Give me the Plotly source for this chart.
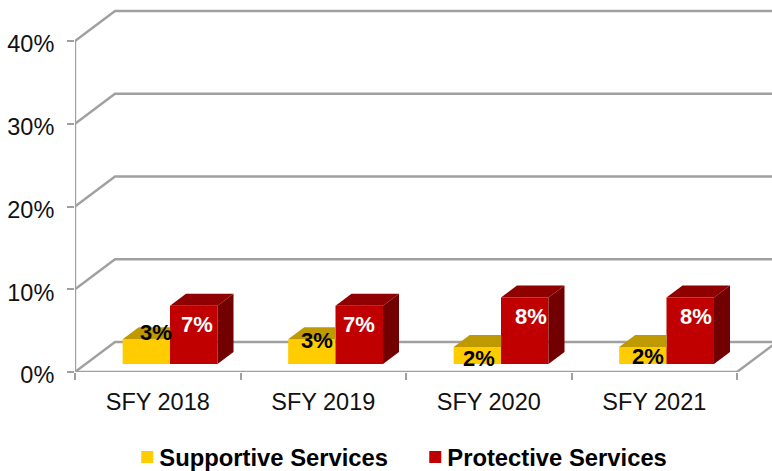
import plotly.graph_objects as go

categories = ["SFY 2018", "SFY 2019", "SFY 2020", "SFY 2021"]
supportive = [3.0, 3.0, 2.05, 2.05]
protective = [7.05, 7.05, 8.05, 8.05]
y_ticks = [0, 10, 20, 30, 40]

# chart geometry (in axis units)
WALL_DX, WALL_DY = 0.2417, 3.63
BAR_DX, BAR_DY = 0.0967, 1.45
BASE = 0.97
BAR_W = 0.287
YEL_OFF, RED_OFF = -0.212, 0.074
LEFT, RIGHT = -0.5, 3.5
X_END, Y_END = 3.7115, 44
LINE = "#a0a0a0"

# label nudges in px relative to category centre / top of bar
sup_shift = [(-2, 7), (-6, -1), (-10, -11), (-6, -9)]
pro_shift = [(39, -19), (36, -19), (42, -19), (42, -19)]

fig = go.Figure()


def rule(xs, ys):
    fig.add_trace(go.Scatter(x=xs, y=ys, mode="lines", line=dict(color=LINE, width=2.4),
                             showlegend=False, hoverinfo="skip", cliponaxis=False))


# back wall gridlines, floor edge and axis lines on the primary axes (below the bars)
for t in y_ticks:
    rule([LEFT, LEFT + WALL_DX, RIGHT + WALL_DX], [t, t + WALL_DY, t + WALL_DY])
rule([RIGHT, RIGHT + WALL_DX], [0, WALL_DY])
rule([LEFT, LEFT], [0, y_ticks[-1]])
rule([LEFT, RIGHT], [0, 0])

# front faces
fig.add_trace(go.Bar(x=list(range(4)), y=supportive, base=BASE, width=BAR_W, offset=YEL_OFF,
                     marker=dict(color="#FFCC00", line=dict(width=0)), name="Supportive Services",
                     xaxis="x2", yaxis="y2"))
fig.add_trace(go.Bar(x=list(range(4)), y=protective, base=BASE, width=BAR_W, offset=RED_OFF,
                     marker=dict(color="#C00000", line=dict(width=0)), name="Protective Services",
                     xaxis="x2", yaxis="y2"))


def face(xs, ys, color):
    fig.add_trace(go.Scatter(x=xs, y=ys, mode="lines", fill="toself", fillcolor=color,
                             line=dict(width=0, color=color), showlegend=False, hoverinfo="skip",
                             xaxis="x2", yaxis="y2", cliponaxis=False))


for i, v in enumerate(supportive):
    x0, x1 = i + YEL_OFF, i + YEL_OFF + BAR_W
    t = BASE + v
    face([x0, x1, x1, x0 + BAR_DX, x0], [t, t, t + BAR_DY, t + BAR_DY, t], "#BF9900")
for i, v in enumerate(protective):
    x0, x1 = i + RED_OFF, i + RED_OFF + BAR_W
    t = BASE + v
    face([x0, x1, x1 + BAR_DX, x0 + BAR_DX, x0], [t, t, t + BAR_DY, t + BAR_DY, t], "#8F0000")
    face([x1, x1 + BAR_DX, x1 + BAR_DX, x1, x1],
         [BASE, BASE + BAR_DY, t + BAR_DY, t, BASE], "#730000")

for i, v in enumerate(supportive):
    fig.add_annotation(x=i, y=BASE + v, xref="x2", yref="y2", text=f"{v:.0f}%", showarrow=False,
                       xshift=sup_shift[i][0], yshift=sup_shift[i][1],
                       font=dict(family="Liberation Sans", size=22, color="black", weight="bold"))
for i, v in enumerate(protective):
    fig.add_annotation(x=i, y=BASE + v, xref="x2", yref="y2", text=f"{v:.0f}%", showarrow=False,
                       xshift=pro_shift[i][0], yshift=pro_shift[i][1],
                       font=dict(family="Liberation Sans", size=22, color="white", weight="bold"))

axis_font = dict(family="Liberation Sans", size=23.5, color="#111111")
fig.update_layout(
    width=772, height=471, autosize=False,
    margin=dict(l=75, r=0, t=8.45, b=99, autoexpand=False),
    paper_bgcolor="white", plot_bgcolor="white",
    barmode="overlay",
    xaxis=dict(range=[LEFT, X_END], tickmode="array", tickvals=list(range(4)), ticktext=categories,
               ticks="", showline=False, showgrid=False, zeroline=False,
               tickfont=axis_font, ticklabelstandoff=13,
               minor=dict(ticks="outside", tick0=-0.5, dtick=1, ticklen=7, tickcolor=LINE, tickwidth=2.4,
                          showgrid=False)),
    yaxis=dict(range=[0, Y_END], tickmode="array", tickvals=y_ticks, ticktext=[f"{t}%" for t in y_ticks],
               ticks="outside", ticklen=7, tickcolor=LINE, tickwidth=2.4, showline=False,
               showgrid=False, zeroline=False, tickfont=axis_font, ticklabelstandoff=8, ticklabelshift=3),
    xaxis2=dict(range=[LEFT, X_END], overlaying="x", visible=False),
    yaxis2=dict(range=[0, Y_END], overlaying="y", visible=False),
    legend=dict(orientation="h", x=0.0635, xanchor="left", y=0.0297, yanchor="middle", yref="container",
                entrywidth=243, entrywidthmode="pixels",
                font=dict(family="Liberation Sans", size=23.8, color="black", weight="bold")),
    showlegend=True,
)
fig.write_html("out.html", config={"displayModeBar": False},
               post_script="document.body.style.margin='0';"
                           "document.querySelectorAll('.legendsymbols').forEach(function(e){"
                           "e.setAttribute('transform','translate(8,0)');});")
